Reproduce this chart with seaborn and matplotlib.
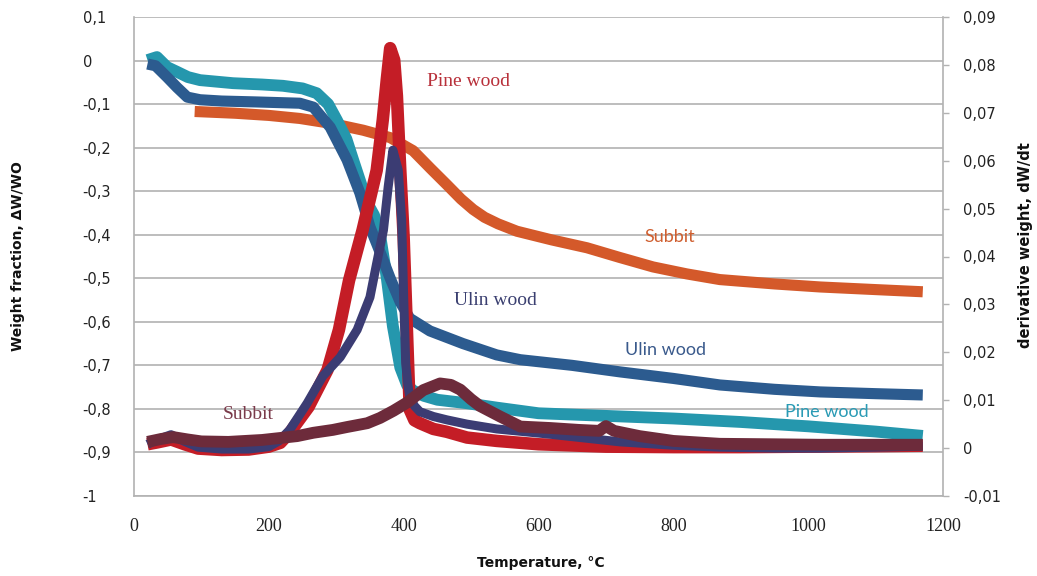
import matplotlib
matplotlib.use("Agg")
import matplotlib.pyplot as plt
import seaborn as sns
import numpy as np

# ---------------- data ----------------
# Weight fraction (left axis)
pine_tg_T = [20, 34, 49, 64, 80, 98, 147, 190, 221, 250, 271, 288, 301, 315, 325, 335, 346, 356, 365, 375, 384, 395, 405, 414, 430, 450, 494, 538, 600, 700, 800, 900, 1000, 1100, 1170]
pine_tg_W = [0.001, 0.008, -0.015, -0.026, -0.038, -0.045, -0.052, -0.055, -0.058, -0.064, -0.075, -0.1, -0.137, -0.18, -0.228, -0.275, -0.327, -0.355, -0.4, -0.5, -0.61, -0.705, -0.745, -0.758, -0.77, -0.779, -0.787, -0.797, -0.81, -0.816, -0.822, -0.83, -0.84, -0.852, -0.862]

ulin_tg_T = [20, 32, 49, 64, 79, 98, 130, 180, 246, 266, 291, 316, 335, 350, 365, 380, 395, 409, 439, 488, 538, 573, 650, 721, 800, 869, 950, 1018, 1100, 1170]
ulin_tg_W = [-0.008, -0.012, -0.038, -0.062, -0.084, -0.09, -0.093, -0.095, -0.098, -0.107, -0.153, -0.228, -0.304, -0.382, -0.44, -0.5, -0.555, -0.592, -0.621, -0.65, -0.676, -0.687, -0.70, -0.715, -0.73, -0.745, -0.755, -0.761, -0.765, -0.768]

subbit_tg_T = [90, 150, 200, 246, 295, 340, 380, 414, 440, 464, 485, 503, 520, 540, 568, 620, 672, 720, 770, 820, 869, 950, 1018, 1100, 1170]
subbit_tg_W = [-0.117, -0.121, -0.126, -0.133, -0.145, -0.16, -0.177, -0.207, -0.248, -0.285, -0.318, -0.342, -0.36, -0.375, -0.392, -0.412, -0.43, -0.452, -0.474, -0.49, -0.503, -0.513, -0.52, -0.526, -0.531]

# Derivative weight (right axis)
pine_dtg_T = [20, 35, 55, 75, 95, 130, 170, 200, 217, 231, 259, 287, 304, 319, 339, 360, 369, 375, 380, 386, 390, 395, 400, 403, 406, 409, 416, 424, 444, 464, 494, 538, 600, 700, 800, 900, 1000, 1100, 1170]
pine_dtg_D = [0.0008, 0.0012, 0.0018, 0.0008, -0.0001, -0.0004, -0.0003, 0.0003, 0.0011, 0.0032, 0.0086, 0.0163, 0.0247, 0.035, 0.0455, 0.058, 0.0685, 0.077, 0.0835, 0.081, 0.0735, 0.058, 0.044, 0.032, 0.02, 0.008, 0.0058, 0.0052, 0.004, 0.0034, 0.0022, 0.0015, 0.0008, 0.0003, 0.0002, 0.0002, 0.0003, 0.0004, 0.0005]

ulin_dtg_T = [20, 35, 55, 75, 95, 130, 170, 200, 215, 231, 257, 280, 306, 331, 350, 360, 370, 377, 384, 392, 397, 400, 403, 406, 409, 416, 424, 444, 464, 494, 538, 617, 721, 800, 869, 950, 1018, 1100, 1170]
ulin_dtg_D = [0.0008, 0.0018, 0.0028, 0.0014, 0.0002, -0.0002, -0.0002, 0.0003, 0.0015, 0.0038, 0.0094, 0.015, 0.019, 0.0247, 0.0315, 0.0386, 0.0455, 0.0545, 0.0622, 0.058, 0.0476, 0.0315, 0.0178, 0.0135, 0.0107, 0.0088, 0.0076, 0.0066, 0.0059, 0.005, 0.004, 0.0029, 0.0013, 0.0006, 0.0002, 0.0, 0.0, 0.0002, 0.0004]

subbit_dtg_T = [20, 40, 58, 80, 100, 140, 190, 242, 266, 295, 316, 346, 365, 385, 405, 429, 454, 470, 484, 500, 513, 543, 573, 617, 660, 690, 700, 712, 750, 800, 869, 950, 1018, 1100, 1170]
subbit_dtg_D = [0.0013, 0.0019, 0.0023, 0.0018, 0.0014, 0.0013, 0.0017, 0.0025, 0.0032, 0.0038, 0.0044, 0.0052, 0.0063, 0.0078, 0.0095, 0.0121, 0.0135, 0.0132, 0.0122, 0.0102, 0.0088, 0.0066, 0.0045, 0.0042, 0.0038, 0.0036, 0.0046, 0.0036, 0.0025, 0.0015, 0.0009, 0.0008, 0.0007, 0.0007, 0.0007]

left_ticks = [0.1, 0.0, -0.1, -0.2, -0.3, -0.4, -0.5, -0.6, -0.7, -0.8, -0.9, -1.0]
left_ticklabels = ["0,1", "0", "-0,1", "-0,2", "-0,3", "-0,4", "-0,5", "-0,6", "-0,7", "-0,8", "-0,9", "-1"]
right_ticks = [0.09, 0.08, 0.07, 0.06, 0.05, 0.04, 0.03, 0.02, 0.01, 0.0, -0.01]
right_ticklabels = ["0,09", "0,08", "0,07", "0,06", "0,05", "0,04", "0,03", "0,02", "0,01", "0", "-0,01"]
x_ticks = [0, 200, 400, 600, 800, 1000, 1200]

# ---------------- style ----------------
sns.set_style("white")
plt.rcParams["font.family"] = ["DejaVu Sans"]

C_TEAL = "#2597ad"
C_BLUE = "#2c5b8f"
C_ORANGE = "#d4592a"
C_RED = "#c41d26"
C_NAVY = "#3b3c73"
C_MAROON = "#6d2b3b"
GRID = "#b2b2b2"

fig = plt.figure(figsize=(10.37, 5.76), dpi=100)
ax = fig.add_axes([134 / 1037, 1 - 496 / 576, (943 - 134) / 1037, (496 - 17) / 576])
ax2 = ax.twinx()

line_kw = dict(estimator=None, sort=False, solid_joinstyle="round", solid_capstyle="butt", legend=False)

sns.lineplot(x=subbit_tg_T, y=subbit_tg_W, ax=ax, color=C_ORANGE, linewidth=8, **line_kw)
sns.lineplot(x=pine_tg_T, y=pine_tg_W, ax=ax, color=C_TEAL, linewidth=8.5, **line_kw)
sns.lineplot(x=ulin_tg_T, y=ulin_tg_W, ax=ax, color=C_BLUE, linewidth=8, **line_kw)

sns.lineplot(x=pine_dtg_T, y=pine_dtg_D, ax=ax2, color=C_RED, linewidth=9, **line_kw)
sns.lineplot(x=ulin_dtg_T, y=ulin_dtg_D, ax=ax2, color=C_NAVY, linewidth=6.5, **line_kw)
sns.lineplot(x=subbit_dtg_T, y=subbit_dtg_D, ax=ax2, color=C_MAROON, linewidth=8.5, **line_kw)

# axes limits / ticks
ax.set_xlim(0, 1200)
ax.set_ylim(-1.0, 0.1)
ax2.set_ylim(-0.01, 0.09)

ax.set_yticks(left_ticks)
ax.set_yticklabels(left_ticklabels, ha="left", fontsize=10.5, color="#222222")
ax.tick_params(axis="y", length=0, pad=37)
ax.set_xticks(x_ticks)
ax.set_xticklabels([str(v) for v in x_ticks], family="Liberation Serif", fontsize=13, color="#222222")
ax.tick_params(axis="x", length=0, pad=16)

ax2.set_yticks(right_ticks)
ax2.set_yticklabels(right_ticklabels, fontsize=10.5, color="#222222")
ax2.tick_params(axis="y", length=4.5, width=1, color=GRID, pad=10)

ax.grid(axis="y", color=GRID, linewidth=1.2)
ax.grid(axis="x", visible=False)
ax.set_axisbelow(True)

for a in (ax, ax2):
    for s in a.spines.values():
        s.set_visible(False)
ax.spines["left"].set_visible(True)
ax.spines["left"].set_color(GRID)
ax.spines["left"].set_linewidth(1.2)
ax.spines["bottom"].set_visible(True)
ax.spines["bottom"].set_color(GRID)
ax.spines["bottom"].set_linewidth(1.2)
ax2.spines["right"].set_visible(True)
ax2.spines["right"].set_color(GRID)
ax2.spines["right"].set_linewidth(1.2)

ax.set_xlabel("Temperature, °C", fontsize=10, fontweight="bold", color="#111111")
ax.xaxis.set_label_coords((541 - 134) / 809, -(556 - 496) / 479)
ax.set_ylabel("Weight fraction, ΔW/WO", fontsize=10, fontweight="bold", color="#111111")
ax.yaxis.set_label_coords((25 - 134) / 809, 0.5)
ax2.set_ylabel("derivative weight, dW/dt", fontsize=10.5, fontweight="bold", color="#111111", rotation=90)
ax2.yaxis.set_label_coords((1018 - 134) / 809, (496 - 245) / 479)

# curve labels
serif = "Liberation Serif"
ax2.text(496, 0.0765, "Pine wood", color="#b8303a", fontsize=14, family=serif, ha="center", va="center")
ax2.text(536, 0.0309, "Ulin wood", color="#3a3f70", fontsize=14, family=serif, ha="center", va="center")
ax2.text(170, 0.0071, "Subbit", color="#7a3a4a", fontsize=14, family=serif, ha="center", va="center")
ax.text(795, -0.405, "Subbit", color="#cf5f30", fontsize=13, family="Lato", ha="center", va="center")
ax.text(788, -0.665, "Ulin wood", color="#3a5a8c", fontsize=13, family="Lato", ha="center", va="center")
ax.text(1028, -0.807, "Pine wood", color="#2a9bb5", fontsize=13, family="Lato", ha="center", va="center")

fig.savefig("out.png", dpi=100, facecolor="white")
